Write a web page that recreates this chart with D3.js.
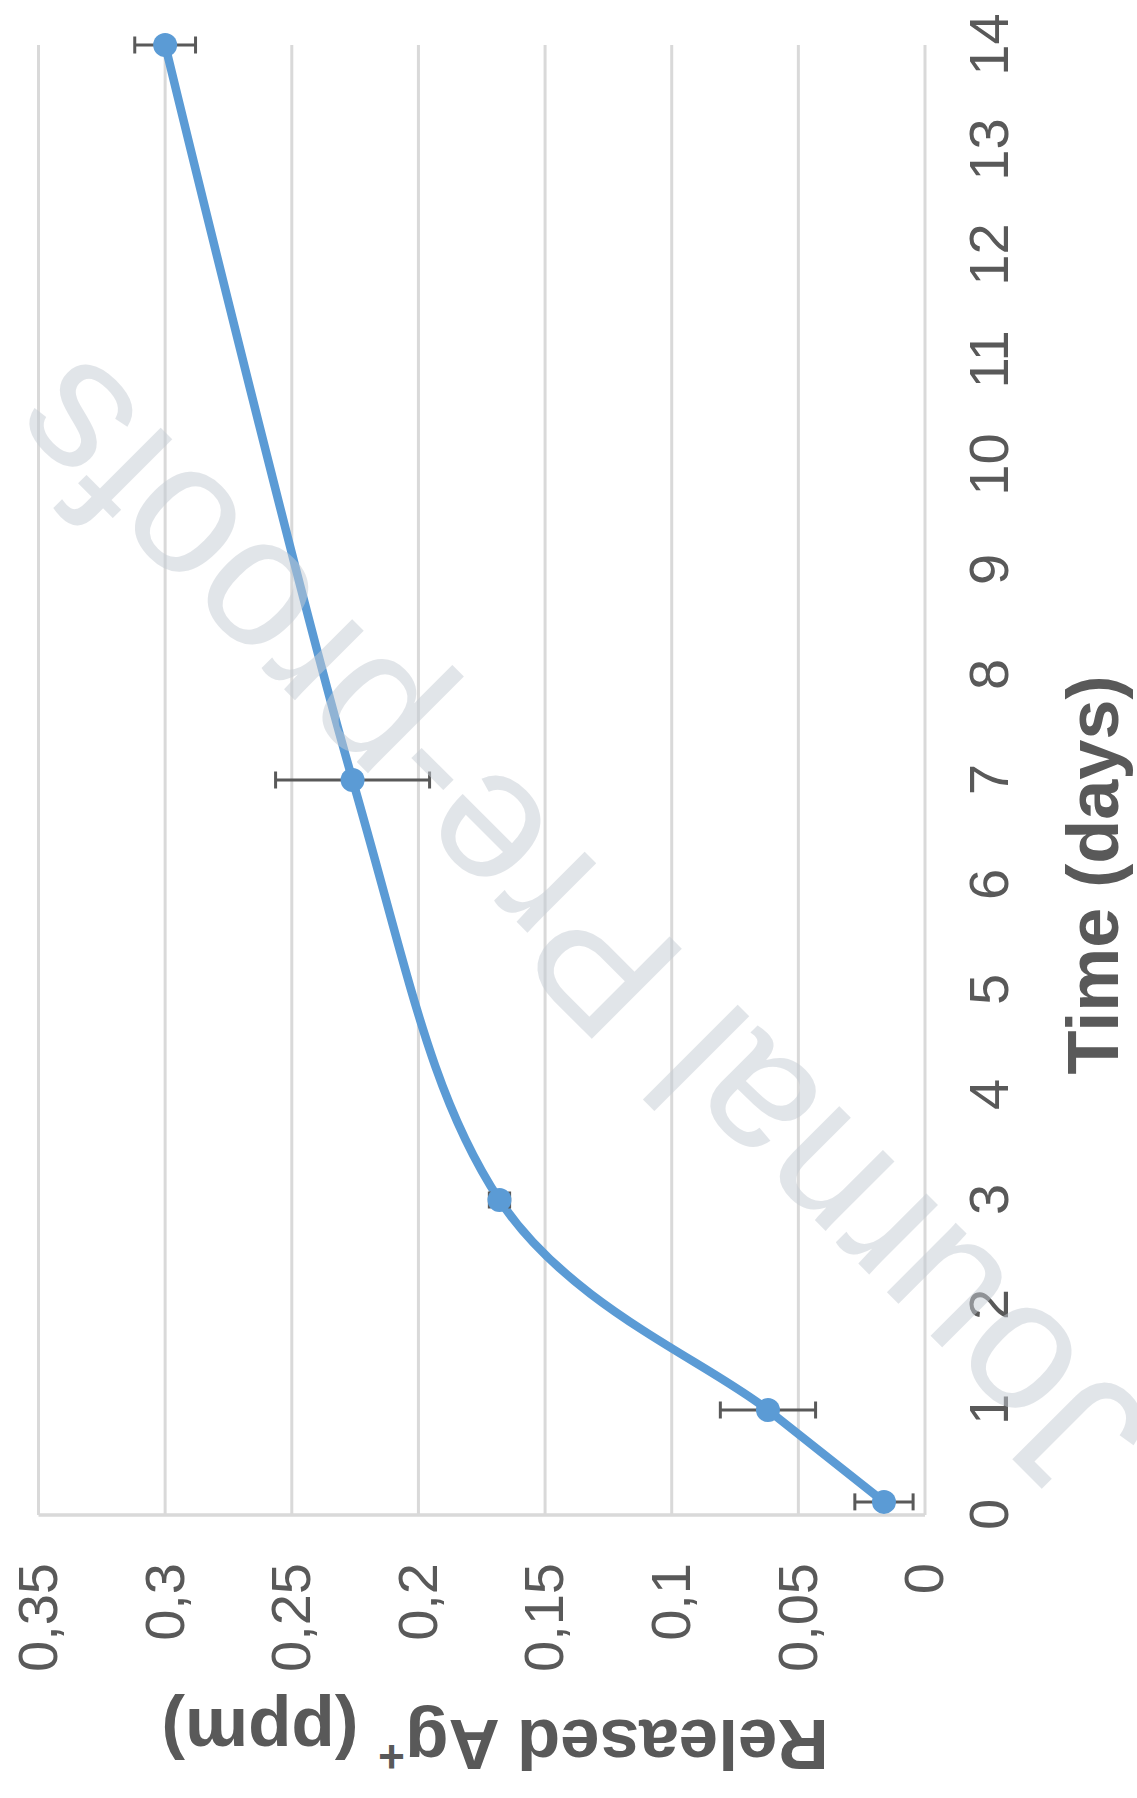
<!DOCTYPE html>
<html>
<head>
<meta charset="utf-8">
<script src="https://cdn.jsdelivr.net/npm/d3@7/dist/d3.min.js"></script>
<style>
  html, body { margin: 0; padding: 0; background: #fff; }
  svg { display: block; font-family: "Liberation Sans", Arial, sans-serif; }
</style>
</head>
<body>
<div id="chart"></div>
<script>
// release data (days vs released Ag+ ppm)
const times = [0.125, 1, 3, 7, 14];
const released = [0.0162, 0.062, 0.168, 0.226, 0.300];
const errors = [0.0115, 0.0188, 0.004, 0.0304, 0.012];

const timeTicks = d3.range(0, 15);
const valueTicks = [0, 0.05, 0.1, 0.15, 0.2, 0.25, 0.3, 0.35];

const width = 1137;
const height = 1798;
const textColor = '#595959';
const gridColor = '#d9d9d9';
const lineColor = '#5b9bd5';

const svg = d3.select('#chart')
  .append('svg')
  .attr('width', width)
  .attr('height', height)
  .attr('viewBox', `0 0 ${width} ${height}`);

svg.append('rect').attr('width', width).attr('height', height).attr('fill', '#fff');

// the whole chart is turned a quarter turn counter-clockwise on the page
const g = svg.append('g')
  .attr('transform', `translate(0,${height}) rotate(-90)`);

const x = d3.scaleLinear().domain([0, 14]).range([height - 1515, height - 45]);
const y = d3.scaleLinear().domain([0, 0.35]).range([925, 38.5]);

// --- gridlines
g.append('g')
  .selectAll('line')
  .data(valueTicks)
  .join('line')
  .attr('x1', x(0))
  .attr('x2', x(14))
  .attr('y1', d => y(d))
  .attr('y2', d => y(d))
  .attr('stroke', gridColor)
  .attr('stroke-width', 3);

g.append('line')
  .attr('x1', x(0)).attr('x2', x(0))
  .attr('y1', y(0)).attr('y2', y(0.35))
  .attr('stroke', gridColor)
  .attr('stroke-width', 3.5);

// --- axes
const fmt = d => String(d).replace('.', ',');

g.append('g')
  .attr('transform', `translate(0,${y(0)})`)
  .call(d3.axisBottom(x).tickValues(timeTicks).tickSize(0).tickPadding(43))
  .call(s => s.select('.domain').remove())
  .selectAll('text')
  .attr('fill', textColor)
  .style('font-size', '56px')
  .style('font-family', '"Liberation Sans", Arial, sans-serif');

g.append('g')
  .attr('transform', `translate(${x(0)},0)`)
  .call(d3.axisLeft(y).tickValues(valueTicks).tickFormat(fmt).tickSize(0).tickPadding(48))
  .call(s => s.select('.domain').remove())
  .selectAll('text')
  .attr('fill', textColor)
  .style('font-size', '56px')
  .style('font-family', '"Liberation Sans", Arial, sans-serif');

// axis titles
g.append('text')
  .attr('x', 923)
  .attr('y', 1118)
  .attr('text-anchor', 'middle')
  .attr('fill', textColor)
  .style('font-size', '72px')
  .style('font-weight', 'bold')
  .text('Time (days)');

const yTitle = g.append('text')
  .attr('transform', `translate(78,495) rotate(-90)`)
  .attr('text-anchor', 'middle')
  .attr('fill', textColor)
  .style('font-size', '71px')
  .style('font-weight', 'bold');
yTitle.append('tspan').text('Released Ag');
yTitle.append('tspan').attr('dy', '-0.45em').style('font-size', '46px').text('+');
yTitle.append('tspan').attr('dy', '0.45em').text(' (ppm)');

// --- series
const points = times.map((t, i) => ({ t, v: released[i], e: errors[i] }));

const line = d3.line()
  .x(d => x(d.t))
  .y(d => y(d.v))
  .curve(d3.curveCardinal.tension(0));

g.append('path')
  .datum(points)
  .attr('d', line)
  .attr('fill', 'none')
  .attr('stroke', lineColor)
  .attr('stroke-width', 8.5)
  .attr('stroke-linejoin', 'round');

// error bars
const capHalf = 8.5;
const errG = g.append('g').attr('stroke', textColor).attr('stroke-width', 3);
errG.selectAll('line.bar')
  .data(points)
  .join('line')
  .attr('class', 'bar')
  .attr('x1', d => x(d.t)).attr('x2', d => x(d.t))
  .attr('y1', d => y(d.v - d.e)).attr('y2', d => y(d.v + d.e));
errG.selectAll('line.capLo')
  .data(points)
  .join('line')
  .attr('class', 'capLo')
  .attr('x1', d => x(d.t) - capHalf).attr('x2', d => x(d.t) + capHalf)
  .attr('y1', d => y(d.v - d.e)).attr('y2', d => y(d.v - d.e));
errG.selectAll('line.capHi')
  .data(points)
  .join('line')
  .attr('class', 'capHi')
  .attr('x1', d => x(d.t) - capHalf).attr('x2', d => x(d.t) + capHalf)
  .attr('y1', d => y(d.v + d.e)).attr('y2', d => y(d.v + d.e));

g.append('g')
  .selectAll('circle')
  .data(points)
  .join('circle')
  .attr('cx', d => x(d.t))
  .attr('cy', d => y(d.v))
  .attr('r', 12)
  .attr('fill', lineColor);

// --- "Journal Pre-proofs" watermark over the chart
svg.append('text')
  .attr('transform', 'translate(1158,1425) rotate(225)')
  .attr('fill', '#c5ccd4')
  .attr('opacity', 0.5)
  .style('font-size', '185px')
  .style('font-family', '"Liberation Sans", Arial, sans-serif')
  .text('Journal Pre-proofs');
</script>
</body>
</html>
